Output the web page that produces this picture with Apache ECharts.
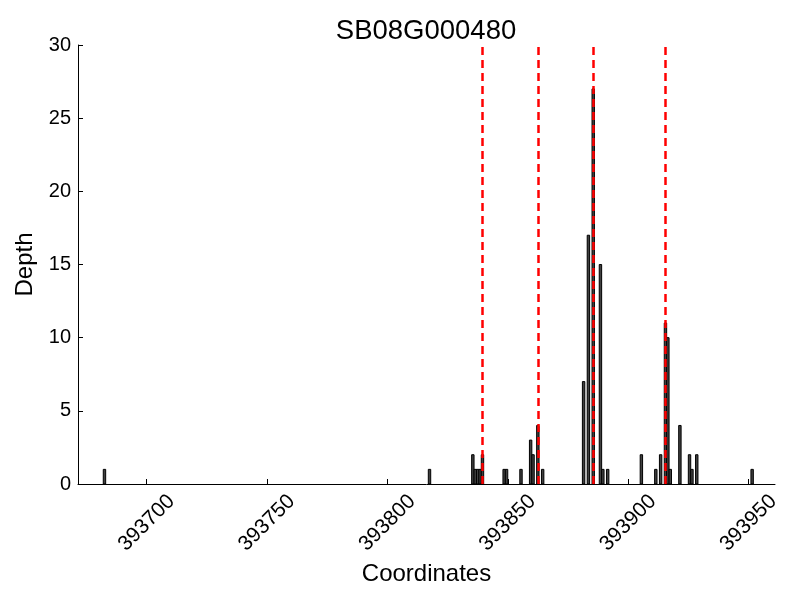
<!DOCTYPE html>
<html>
<head>
<meta charset="utf-8">
<script src="https://cdn.jsdelivr.net/npm/echarts@6/dist/echarts.min.js"></script>
<style>html,body{margin:0;padding:0;background:#fff}#c{width:800px;height:600px}</style>
</head>
<body>
<div id="c"></div>
<script>
const positions = [393682, 393817, 393835, 393836, 393837, 393838, 393839, 393848, 393849, 393855,
  393859, 393860, 393862, 393864, 393881, 393883, 393885, 393888, 393889, 393891,
  393905, 393911, 393913, 393915, 393916, 393917, 393921, 393925, 393926, 393928, 393951];
const depths = [1, 1, 2, 1, 1, 1, 2, 1, 1, 1,
  3, 2, 4, 1, 7, 17, 27, 15, 1, 1,
  2, 1, 2, 11, 10, 1, 4, 2, 1, 2, 1];
const snpPositions = [393839, 393862, 393885, 393915];
const xTicks = [393700, 393750, 393800, 393850, 393900, 393950];
const yTicks = [0, 5, 10, 15, 20, 25, 30];

const FONT = 'Liberation Sans';
const chart = echarts.init(document.getElementById('c'), null, {renderer: 'canvas'});
const barData = positions.map((p, i) => [p, depths[i]]);
chart.setOption({
  animation: false,
  title: {text: 'SB08G000480', left: 421, top: 12, textAlign: 'center',
    textStyle: {fontFamily: FONT, fontSize: 27.5, fontWeight: 'normal', color: '#000'}},
  grid: {left: 78, right: 25, top: 45, bottom: 116},
  xAxis: {
    type: 'value', min: 393671.5, max: 393961,
    name: 'Coordinates', nameLocation: 'middle', nameGap: 72,
    nameTextStyle: {fontFamily: FONT, fontSize: 24, color: '#000'},
    axisLine: {show: true, onZero: false, lineStyle: {color: '#000', width: 1}},
    axisTick: {show: true, inside: true, length: 5, customValues: xTicks, lineStyle: {color: '#000'}},
    axisLabel: {customValues: xTicks, rotate: 45, align: 'center', verticalAlign: 'middle', margin: 39,
      fontFamily: FONT, fontSize: 21, color: '#000', formatter: v => String(v)},
    splitLine: {show: false}
  },
  yAxis: {
    type: 'value', min: 0, max: 30, interval: 5,
    name: 'Depth', nameLocation: 'middle', nameGap: 36,
    nameTextStyle: {fontFamily: FONT, fontSize: 24, color: '#000'},
    axisLine: {show: true, lineStyle: {color: '#000', width: 1}},
    axisTick: {show: true, inside: true, length: 5, lineStyle: {color: '#000'}},
    axisLabel: {fontFamily: FONT, fontSize: 20, color: '#000', margin: 7},
    splitLine: {show: false}
  },
  series: [
    {
      type: 'custom',
      data: barData,
      renderItem: function (params, api) {
        const x = api.value(0), y = api.value(1);
        const p1 = api.coord([x, y]);
        const p2 = api.coord([x + 1, 0]);
        return {
          type: 'rect',
          shape: {x: p1[0], y: p1[1], width: p2[0] - p1[0], height: p2[1] - p1[1]},
          style: {fill: '#404040', stroke: '#000', lineWidth: 1}
        };
      },
      encode: {x: 0, y: 1},
      z: 2
    },
    {
      type: 'line', data: [], z: 5,
      markLine: {
        silent: true, symbol: ['none', 'none'], label: {show: false},
        lineStyle: {color: '#ff0000', type: [8, 5], width: 2.5},
        data: snpPositions.map(v => ({xAxis: v + 0.5}))
      }
    }
  ]
});
</script>
</body>
</html>
